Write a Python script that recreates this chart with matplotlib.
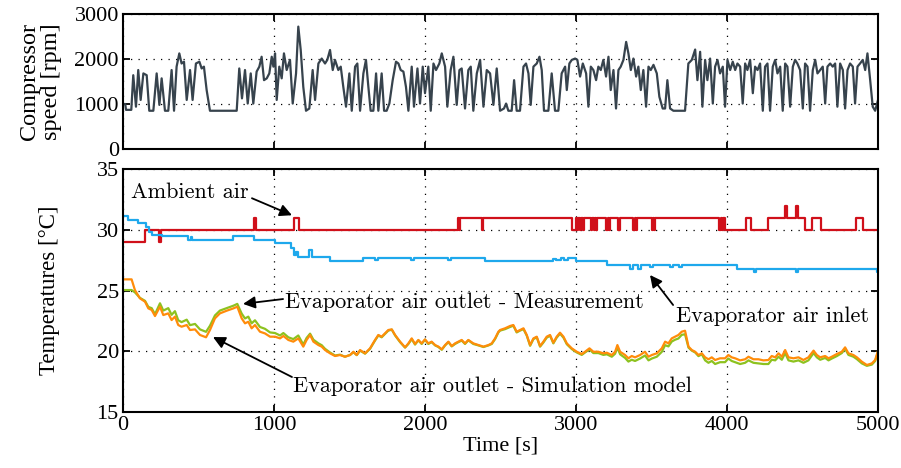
import numpy as np
import matplotlib
matplotlib.use("Agg")
import matplotlib.pyplot as plt

# ---- compressor speed [rpm] ----
comp_t = [0, 15, 20, 55, 68, 86, 101, 117, 135, 157, 174, 201, 223, 241, 256, 278, 300, 322, 338, 355,
          373, 388, 404, 422, 444, 461, 483, 506, 521, 536, 554, 576, 753, 770, 788, 808, 826, 846, 863, 885,
          903, 918, 934, 952, 969, 985, 996, 1007, 1018, 1035, 1051, 1066, 1084, 1106, 1124, 1146, 1161, 1177, 1194, 1212,
          1234, 1256, 1272, 1294, 1316, 1338, 1353, 1371, 1389, 1404, 1426, 1442, 1459, 1477, 1499, 1515, 1537, 1552, 1570, 1592,
          1609, 1625, 1640, 1658, 1676, 1691, 1713, 1729, 1746, 1764, 1786, 1808, 1824, 1839, 1857, 1874, 1890, 1912, 1927, 1950,
          1967, 1985, 2000, 2022, 2038, 2056, 2073, 2095, 2111, 2133, 2148, 2170, 2188, 2210, 2228, 2243, 2265, 2287, 2303, 2320,
          2343, 2365, 2387, 2409, 2431, 2453, 2475,
          2497, 2523, 2537, 2552, 2574, 2590, 2607, 2629, 2652, 2669, 2685, 2700, 2718, 2740, 2758, 2773, 2788, 2817, 2839, 2861,
          2883, 2905, 2928, 2939, 2956, 2972, 2994, 3009, 3027, 3045, 3067, 3082, 3098, 3115, 3133, 3148, 3164, 3181, 3199, 3215,
          3230, 3248, 3265, 3281, 3296, 3314, 3332, 3347, 3363, 3380, 3398, 3413, 3429, 3446, 3464, 3480, 3495, 3513, 3535, 3552,
          3574, 3590, 3605, 3623, 3645, 3722, 3744, 3767, 3789, 3804, 3822, 3837, 3855, 3870, 3888, 3906, 3921, 3937, 3954, 3972,
          3987, 4003, 4021, 4038, 4054, 4069, 4087, 4104, 4120, 4135, 4153, 4171, 4186, 4202, 4219, 4237, 4252, 4268, 4285, 4303,
          4319, 4334, 4352, 4369, 4385, 4400, 4418, 4436, 4451, 4466, 4484, 4502, 4517, 4533, 4550, 4568, 4584, 4599, 4617, 4634,
          4650, 4665, 4683, 4700, 4716, 4731, 4749, 4767, 4782, 4798, 4815, 4833, 4848, 4864, 4881, 4899, 4915, 4930, 4948, 4965,
          4981, 5000]
comp_rpm = [1000, 1000, 870, 870, 1640, 940, 1755, 1090, 1680, 1640, 850, 850, 1680, 980, 1570, 850, 850, 1755, 850, 1830,
            2125, 1900, 1940, 1090, 1755, 1090, 1900, 1940, 1790, 1830, 1310, 850, 850, 1790, 1125, 1755, 1010, 1680, 1010, 1720,
            1830, 2050, 1530, 1570, 1680, 2050, 1830, 2125, 1090, 1830, 1570, 2125, 1755, 1980, 1010, 1680, 2720, 2200, 1380, 850,
            900, 1755, 1090, 1900, 2010, 1900, 1980, 2200, 1755, 1980, 1755, 1830, 1380, 940, 1680, 850, 1830, 1900, 850, 1680,
            1980, 1380, 850, 850, 1680, 850, 1680, 850, 850, 1010, 1530, 1940, 1900, 1755, 1720, 1380, 850, 1830, 940, 1790,
            1010, 1830, 1240, 1830, 850, 1900, 1755, 1900, 2125, 1830, 940, 1755, 2050, 980, 1755, 1790, 900, 1755, 1830, 850,
            1680, 1980, 940, 1755, 1680, 980, 1790,
            850, 900, 1010, 850, 850, 1530, 850, 850, 1830, 1900, 1680, 980, 1830, 1900, 2050, 1755, 850, 850, 1680, 850,
            850, 1680, 1830, 1310, 1900, 1980, 2010, 1980, 1610, 1900, 1680, 940, 1830, 1755, 1530, 1830, 1755, 1980, 1610, 2050,
            1310, 1755, 900, 1755, 1830, 1980, 2380, 2125, 1755, 2010, 1610, 1830, 1310, 1755, 940, 1830, 1755, 1870, 1680, 1160,
            900, 900, 1530, 900, 850, 850, 1900, 1980, 2210, 1530, 2160, 940, 1980, 1530, 2010, 1010, 1830, 1980, 1680, 1830,
            940, 1980, 1755, 1940, 1755, 1900, 1830, 1010, 1900, 1755, 1980, 1240, 1830, 1755, 1900, 850, 1830, 1900, 850, 1830,
            1980, 1680, 1830, 850, 1900, 1830, 940, 1830, 1980, 1900, 1755, 900, 1900, 1830, 850, 1755, 1980, 1680, 1755, 1830,
            1010, 1830, 1900, 1830, 1900, 940, 1900, 1755, 900, 1755, 1900, 1830, 1010, 1830, 1900, 1980, 1755, 2125, 1530, 940,
            850, 1090]

# ---- ambient air temperature (stepwise sensor) ----
amb_t = [0, 146, 240, 250, 870, 880, 1132, 1166, 2218, 2225, 2232, 2375, 2385, 2973, 3000, 3008, 3016, 3024, 3032, 3045,
         3052, 3100, 3108, 3116, 3124, 3132, 3140, 3200, 3210, 3218, 3226, 3280, 3290, 3380, 3390, 3398, 3406, 3500, 3508, 3516,
         3524, 3950, 3958, 3966, 3974, 3985, 4126, 4159, 4272, 4385, 4395, 4460, 4470, 4517, 4560, 4620, 4854, 4901, 5000]
amb_T = [29, 30, 29, 30, 31, 30, 31, 30, 31, 30, 31, 30, 31, 30, 31, 30, 31, 30, 31, 30,
         31, 30, 31, 30, 31, 30, 31, 30, 31, 30, 31, 30, 31, 30, 31, 30, 31, 30, 31, 30,
         31, 30, 31, 30, 31, 30, 31, 30, 31, 32, 31, 32, 31, 30, 31, 30, 31, 30, 30]

# ---- evaporator air inlet ----
inl_t = [0, 30, 100, 150, 170, 190, 260, 430, 450, 460, 730, 870, 1007, 1110, 1130, 1145, 1160, 1235, 1250, 1370,
         1589, 1670, 1690, 1910, 1930, 2150, 2170, 2397, 2850, 2870, 2900, 2920, 2950, 3000, 3205, 3360, 3380, 3410, 3430, 3490,
         3510, 3620, 3640, 3680, 3700, 4066, 4180, 4195, 4460, 4470, 4990, 5000]
inl_T = [31.1, 30.8, 30.6, 30.2, 29.8, 29.6, 29.5, 29.2, 29.4, 29.2, 29.5, 29.2, 28.9, 28.5, 27.9, 28.2, 27.8, 28.3, 27.8, 27.45,
         27.7, 27.5, 27.7, 27.5, 27.7, 27.5, 27.7, 27.45, 27.6, 27.5, 27.7, 27.5, 27.7, 27.45, 27.1, 26.8, 27.1, 26.8, 27.1, 26.9,
         27.1, 26.9, 27.1, 26.9, 27.1, 26.8, 26.5, 26.8, 26.5, 26.8, 26.5, 26.5]

# ---- evaporator air outlet: measurement and simulation ----
out_t = [0, 57, 79, 112, 146, 168, 190, 212, 245, 267, 300, 322, 344, 366, 388, 422, 444, 477, 510, 550,
         576, 609, 642, 687, 731, 757, 786, 808, 830, 852, 874, 907, 940, 974, 1007, 1040, 1062, 1095, 1128, 1161,
         1194, 1216, 1239, 1261, 1294, 1316, 1338, 1371, 1404, 1437, 1470, 1504, 1526, 1548, 1570, 1603, 1636, 1669, 1691, 1713,
         1735, 1757, 1780, 1802, 1835, 1868, 1890, 1912, 1934, 1956, 1978, 2000, 2022, 2044, 2067, 2089, 2111, 2133, 2155, 2177,
         2199, 2221, 2243, 2265, 2287, 2320, 2354, 2387, 2420, 2442, 2464, 2486, 2497, 2530, 2563, 2585, 2607, 2629, 2652, 2674,
         2696, 2718, 2740, 2762, 2784, 2806, 2828, 2850, 2872, 2894, 2917, 2939, 2972, 3005, 3038, 3060, 3089, 3115, 3148, 3181,
         3204, 3237, 3259, 3274, 3292, 3325, 3347, 3369, 3391, 3424, 3457, 3480, 3502, 3535, 3568, 3590, 3612, 3634, 3656, 3678,
         3700, 3722, 3745, 3767, 3789, 3811, 3833, 3855, 3877, 3899, 3921, 3954, 3987, 4009, 4031, 4054, 4087, 4120, 4142, 4175,
         4208, 4241, 4274, 4296, 4319, 4341, 4363, 4385, 4407, 4440, 4473, 4506, 4539, 4573, 4595, 4617, 4650, 4672, 4694, 4727,
         4760, 4782, 4804, 4837, 4860, 4893, 4926, 4959, 4981, 5000]
sim_T = [25.92, 25.92, 25.04, 24.36, 24.08, 23.53, 23.40, 22.90, 23.67, 22.98, 23.12, 22.57, 22.85, 22.16, 22.02, 22.16, 21.75, 21.80, 21.34, 21.15,
         21.75, 22.71, 23.12, 23.34, 23.53, 23.67, 22.71, 22.30, 22.43, 21.89, 22.16, 21.61, 21.47, 21.20, 21.20, 21.06, 21.26, 20.93, 20.79, 21.06,
         20.38, 20.93, 21.34, 20.79, 20.51, 20.38, 20.10, 19.83, 19.61, 19.69, 19.55, 19.69, 19.96, 19.69, 20.10, 19.83, 20.24, 20.93, 21.34, 21.20,
         21.47, 21.75, 21.80, 21.34, 20.79, 20.32, 20.65, 21.06, 20.60, 20.93, 20.65, 20.98, 20.65, 20.79, 20.51, 20.38, 20.16, 20.51, 20.79, 20.43,
         20.65, 20.79, 20.93, 20.65, 20.93, 20.65, 20.51, 20.38, 20.51, 20.65, 21.06, 21.61, 21.75, 21.89, 22.08, 22.16, 21.61, 21.75, 21.89, 21.34,
         20.51, 21.06, 21.20, 20.43, 20.79, 21.20, 21.34, 20.71, 21.20, 21.53, 21.20, 20.65, 20.24, 19.96, 19.77, 19.96, 20.24, 19.96, 19.96, 19.83,
         19.88, 19.69, 19.96, 20.51, 19.96, 19.69, 19.42, 19.61, 19.50, 19.69, 19.96, 19.55, 19.69, 19.83, 20.24, 20.79, 20.65, 21.06, 21.20, 21.34,
         21.61, 21.69, 20.38, 20.10, 19.96, 19.69, 19.83, 19.50, 19.34, 19.50, 19.28, 19.42, 19.42, 19.69, 19.50, 19.42, 19.25, 19.34, 19.55, 19.34,
         19.34, 19.25, 19.28, 19.61, 19.50, 19.83, 19.55, 20.10, 19.50, 19.42, 19.50, 19.28, 19.50, 20.05, 19.69, 19.50, 19.61, 19.42, 19.55, 19.77,
         19.96, 20.32, 19.83, 19.69, 19.50, 19.14, 18.87, 19.00, 19.28, 20.05]
meas_T = [25.04, 25.04, 24.85, 24.40, 24.15, 23.65, 23.55, 23.05, 23.95, 23.35, 23.55, 23.00, 23.30, 22.55, 22.40, 22.60, 22.15, 22.25, 21.80, 21.60,
          22.10, 22.95, 23.35, 23.55, 23.75, 23.90, 23.10, 22.70, 22.85, 22.30, 22.55, 22.00, 21.85, 21.55, 21.50, 21.30, 21.50, 21.15, 21.00, 21.30,
          20.55, 21.10, 21.45, 20.95, 20.65, 20.50, 20.20, 19.90, 19.65, 19.72, 19.55, 19.70, 19.92, 19.68, 20.05, 19.80, 20.20, 20.88, 21.30, 21.15,
          21.42, 21.70, 21.78, 21.30, 20.75, 20.30, 20.60, 21.00, 20.55, 20.90, 20.60, 20.95, 20.60, 20.75, 20.48, 20.35, 20.12, 20.48, 20.75, 20.40,
          20.60, 20.75, 20.88, 20.60, 20.90, 20.60, 20.48, 20.35, 20.48, 20.60, 21.00, 21.55, 21.70, 21.82, 22.00, 22.10, 21.55, 21.70, 21.82, 21.28,
          20.45, 21.00, 21.15, 20.38, 20.72, 21.12, 21.28, 20.65, 21.12, 21.45, 21.12, 20.58, 20.18, 19.90, 19.70, 19.90, 20.15, 19.85, 19.85, 19.70,
          19.75, 19.55, 19.80, 20.30, 19.75, 19.45, 19.15, 19.30, 19.20, 19.40, 19.65, 19.25, 19.40, 19.55, 19.95, 20.50, 20.40, 20.80, 20.95, 21.05,
          21.35, 21.40, 20.30, 20.05, 19.90, 19.60, 19.75, 19.25, 19.05, 19.20, 18.95, 19.10, 19.10, 19.40, 19.20, 19.10, 18.95, 19.05, 19.25, 19.05,
          19.00, 18.95, 18.95, 19.30, 19.25, 19.55, 19.30, 19.85, 19.25, 19.15, 19.25, 19.05, 19.25, 19.85, 19.50, 19.30, 19.45, 19.25, 19.40, 19.60,
          19.85, 20.20, 19.70, 19.55, 19.35, 19.00, 18.80, 18.90, 19.20, 19.95]

serif = "Liberation Serif"
cm = "cmr10"
grid_kw = dict(color="k", linestyle=(0, (1, 5)), linewidth=0.9)

fig = plt.figure(figsize=(9.01, 4.68), dpi=100)
ax1 = fig.add_axes([0.1365, 0.6816, 0.838, 0.2885])
ax2 = fig.add_axes([0.1365, 0.1197, 0.838, 0.519])

# top panel: compressor speed
ax1.plot(comp_t, comp_rpm, color="#37434d", lw=1.6)
ax1.set_xlim(0, 5000)
ax1.set_ylim(0, 3000)
ax1.set_xticks(np.arange(0, 5001, 1000))
ax1.set_xticklabels([])
ax1.set_yticks([0, 1000, 2000, 3000])
ax1.set_ylabel("Compressor\nspeed [rpm]", fontsize=17.5, family=serif, linespacing=1.05, labelpad=9)

# bottom panel: temperatures
ax2.plot(amb_t, amb_T, color="#d0101a", lw=1.6, drawstyle="steps-post")
ax2.plot(inl_t, inl_T, color="#1ea8ec", lw=1.6, drawstyle="steps-post")
ax2.plot(out_t, meas_T, color="#8dc21f", lw=1.6)
ax2.plot(out_t, sim_T, color="#ff8c0a", lw=1.6)
ax2.set_xlim(0, 5000)
ax2.set_ylim(15, 35)
ax2.set_xticks(np.arange(0, 5001, 1000))
ax2.set_yticks([15, 20, 25, 30, 35])
ax2.set_xlabel("Time [s]", fontsize=16, family=serif, labelpad=1)
ax2.set_ylabel("Temperatures [°C]", fontsize=16.5, family=serif, labelpad=26)

for ax in (ax1, ax2):
    ax.grid(True, **grid_kw)
    ax.tick_params(direction="in", top=True, right=True, length=5, width=1.3,
                   labelsize=16, pad=3)
    for lab in ax.get_xticklabels() + ax.get_yticklabels():
        lab.set_family(serif)
    for s in ax.spines.values():
        s.set_linewidth(1.5)

# annotations
arr = dict(arrowstyle="-|>", color="k", lw=1.3, mutation_scale=18, shrinkA=0, shrinkB=0)
ax2.text(53, 33.1, "Ambient air", fontsize=16, family=cm, va="center")
ax2.annotate("", xy=(1119, 31.2), xytext=(854, 32.6), arrowprops=arr)

ax2.text(1073, 24.05, "Evaporator air outlet - Measurement", fontsize=16, family=cm, va="center")
ax2.annotate("", xy=(795, 23.9), xytext=(1060, 24.3), arrowprops=arr)

ax2.text(1126, 17.08, "Evaporator air outlet - Simulation model", fontsize=16, family=cm, va="center")
ax2.annotate("", xy=(596, 21.17), xytext=(1119, 17.88), arrowprops=arr)

ax2.text(3662, 22.85, "Evaporator air inlet", fontsize=16, family=cm, va="center")
ax2.annotate("", xy=(3490, 26.28), xytext=(3643, 23.81), arrowprops=arr)

fig.savefig("out.png", dpi=100)
